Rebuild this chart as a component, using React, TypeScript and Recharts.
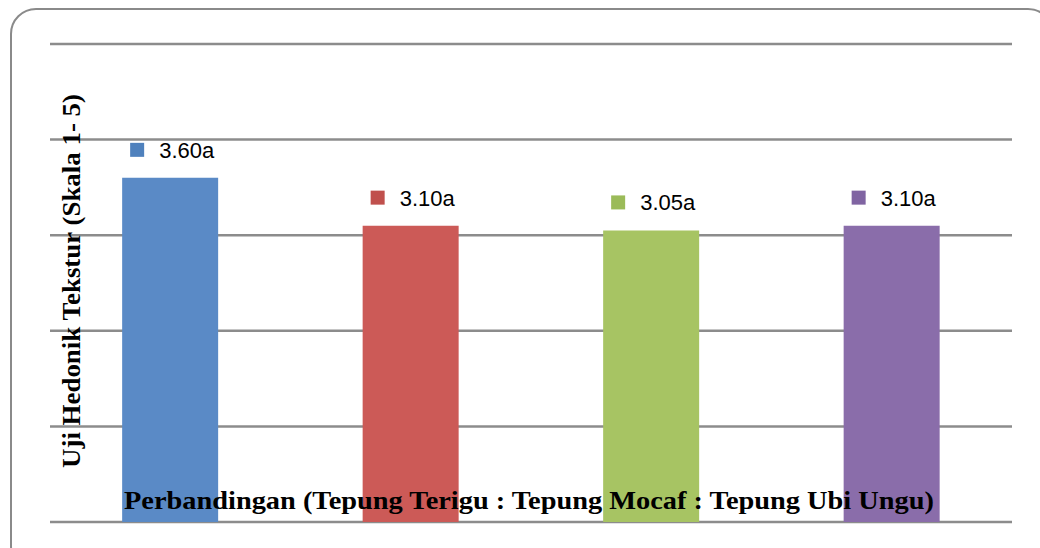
import React from "react";
import { BarChart, Bar, Cell, XAxis, YAxis, CartesianGrid, LabelList } from "recharts";

const categories = ["P1", "P2", "P3", "P4"];
const scores = [3.6, 3.1, 3.05, 3.1];
const notations = ["a", "a", "a", "a"];
const barColors = ["#5a8ac6", "#cc5a57", "#a7c463", "#8a6daa"];
const markerColors = ["#4f81bd", "#c0504d", "#9bbb59", "#8064a2"];
const yTicks = [0, 1, 2, 3, 4, 5];

const data = categories.map((name, i) => ({
  name,
  value: scores[i],
  label: scores[i].toFixed(2) + notations[i],
}));

// label above each bar: small coloured square followed by the score text
const ScoreLabel = (props: any) => {
  const { x, y, index, value } = props;
  const cy = y - 28;
  return (
    <g>
      <rect x={x + 8} y={cy - 7} width={14} height={14} fill={markerColors[index]} />
      <text
        x={x + 37}
        y={cy + 8}
        fontSize={22}
        fontFamily="'Liberation Sans', Arial, sans-serif"
        fill="#000"
      >
        {value}
      </text>
    </g>
  );
};

export default function App() {
  return (
    <div
      style={{
        position: "absolute",
        left: 0,
        top: 0,
        width: 1040,
        height: 548,
        overflow: "hidden",
        background: "#fff",
      }}
    >
      <div
        style={{
          position: "absolute",
          left: 10,
          top: 8,
          width: 1040,
          height: 560,
          border: "2px solid #8a8a8a",
          borderRadius: 26,
        }}
      />
      <BarChart
        width={1040}
        height={548}
        data={data}
        margin={{ top: 44, left: 50, right: 28, bottom: 26 }}
        barCategoryGap="30%"
        style={{ position: "absolute", left: 0, top: 0 }}
      >
        <CartesianGrid vertical={false} stroke="#8c8c8c" strokeWidth={2.5} />
        <XAxis dataKey="name" hide />
        <YAxis domain={[0, 5]} ticks={yTicks} interval={0} hide />
        <Bar dataKey="value" isAnimationActive={false}>
          {data.map((_, i) => (
            <Cell key={i} fill={barColors[i]} />
          ))}
          <LabelList dataKey="label" content={ScoreLabel} />
        </Bar>
      </BarChart>
      <svg
        width={1040}
        height={548}
        style={{ position: "absolute", left: 0, top: 0, pointerEvents: "none" }}
      >
        <text
          x={529}
          y={509}
          textAnchor="middle"
          fontSize={26}
          fontWeight="bold"
          fontFamily="'Liberation Serif', 'Times New Roman', serif"
          textLength={810}
          lengthAdjust="spacingAndGlyphs"
        >
          Perbandingan (Tepung Terigu : Tepung Mocaf : Tepung Ubi Ungu)
        </text>
        <text
          transform="translate(80, 281) rotate(-90)"
          textAnchor="middle"
          fontSize={26}
          fontWeight="bold"
          fontFamily="'Liberation Serif', 'Times New Roman', serif"
          textLength={374}
          lengthAdjust="spacingAndGlyphs"
        >
          Uji Hedonik Tekstur (Skala 1- 5)
        </text>
      </svg>
    </div>
  );
}
